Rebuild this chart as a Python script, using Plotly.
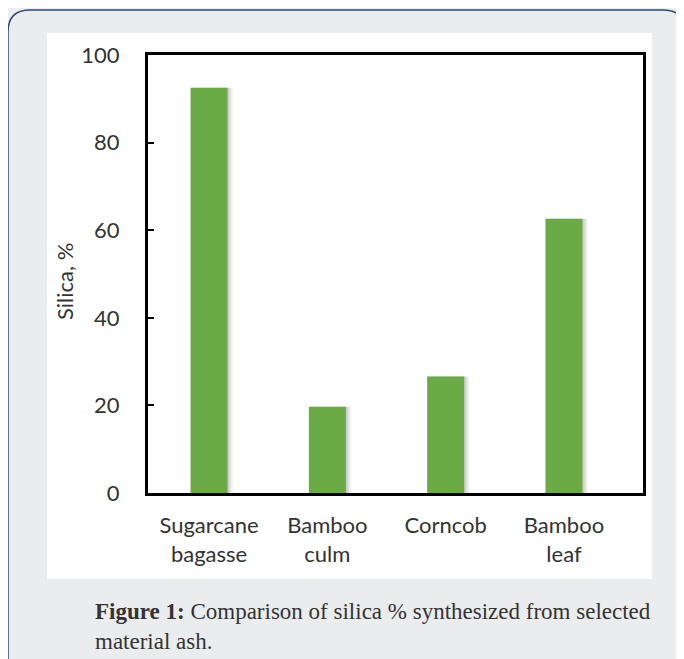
import plotly.graph_objects as go

categories = ["Sugarcane<br>bagasse", "Bamboo<br>culm", "Corncob", "Bamboo<br>leaf"]
silica = [92.5, 19.7, 26.6, 62.6]
y_ticks = [0, 20, 40, 60, 80, 100]

OFF = 8  # page body margin
W, H = 684 - OFF, 659 - OFF
# plot area in page pixels
L, R, T, B = 148, 643, 55, 493


def px(x):
    return (x - L) / (R - L)


def py(y):
    return (B - y) / (B - T)


xpos = list(range(len(categories)))

fig = go.Figure()
# soft shadow behind bars
for shift, alpha in [(0.045, 0.05), (0.03, 0.07), (0.015, 0.08)]:
    fig.add_trace(go.Bar(
        x=xpos, y=silica, width=0.313, offset=-0.1565 + shift,
        marker=dict(color=f"rgba(0,0,0,{alpha})", line=dict(width=0)),
        hoverinfo="skip",
    ))
fig.add_trace(go.Bar(
    x=xpos, y=silica, width=0.313, offset=-0.1565,
    marker=dict(color="#6aab46", line=dict(width=0)),
    hoverinfo="skip",
))

# rounded outer frame
r = 22
x0, y0 = 8, 10
xr = 685
path = (f"M {px(x0)},{py(700)} L {px(x0)},{py(y0 + r)} "
        f"Q {px(x0)},{py(y0)} {px(x0 + r)},{py(y0)} "
        f"L {px(xr - r)},{py(y0)} Q {px(xr)},{py(y0)} {px(xr)},{py(y0 + r)} "
        f"L {px(xr)},{py(700)}")

fig.update_layout(
    width=W, height=H,
    margin=dict(l=L - OFF, r=W - (R - OFF), t=T - OFF, b=H - (B - OFF), pad=0),
    paper_bgcolor="#ebecee",
    plot_bgcolor="white",
    showlegend=False,
    barmode="overlay",
    font=dict(family="Lato, Open Sans, sans-serif", color="#333333", size=22),
    shapes=[
        dict(type="rect", xref="paper", yref="paper", layer="below",
             x0=px(47), x1=px(652), y0=py(579), y1=py(33),
             fillcolor="white", line=dict(width=0)),
        dict(type="path", xref="paper", yref="paper", layer="below",
             path=path, line=dict(color="#2b4a7c", width=1.5)),
    ],
    annotations=[
        dict(xref="paper", yref="paper", x=px(64), y=py(282),
             xanchor="center", yanchor="middle", textangle=-90, showarrow=False,
             text="Silica, %", font=dict(size=22, color="#333333")),
        dict(xref="paper", yref="paper", x=px(93), y=py(597),
             xanchor="left", yanchor="top", align="left", showarrow=False,
             text="<b>Figure 1:</b> Comparison of silica % synthesized from selected<br>material ash.",
             font=dict(family="Liberation Serif, serif", size=23, color="#333333")),
    ],
)

fig.update_xaxes(
    range=[-0.516, 3.668],
    tickmode="array", tickvals=xpos, ticktext=categories,
    showline=True, linecolor="black", linewidth=3, mirror=True,
    ticks="", showgrid=False, zeroline=False,
    ticklabelstandoff=11,
    tickfont=dict(size=22, color="#333333"),
)
fig.update_yaxes(
    range=[0, 100],
    tickmode="array", tickvals=y_ticks,
    showline=True, linecolor="black", linewidth=3, mirror=True,
    ticks="inside", ticklen=6, tickwidth=2, tickcolor="black",
    showgrid=False, zeroline=False,
    ticklabelstandoff=21,
    tickfont=dict(size=22, color="#333333"),
)

fig.write_html("out.html")
